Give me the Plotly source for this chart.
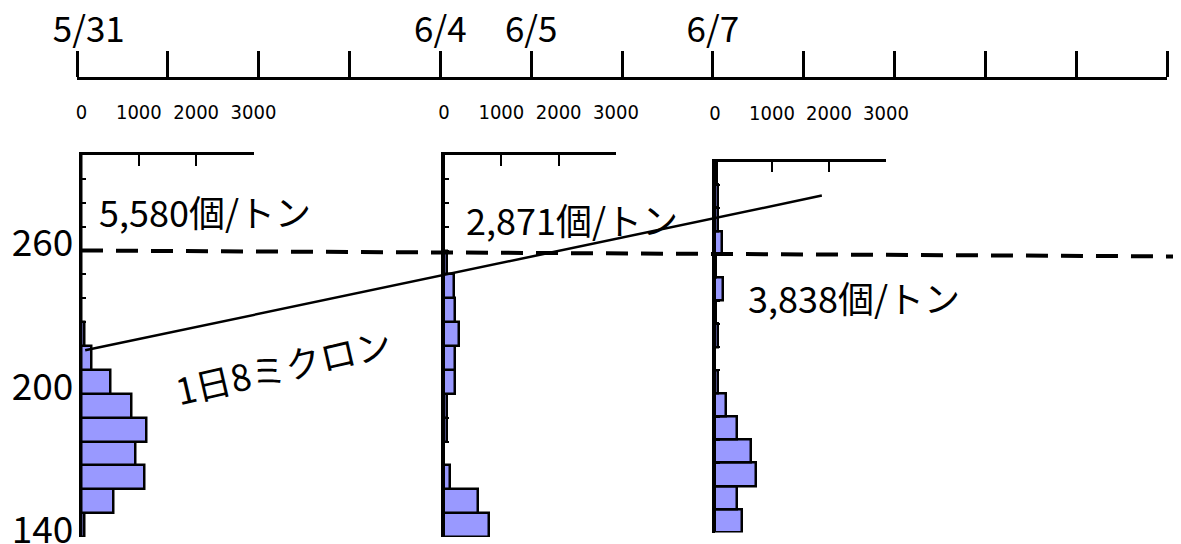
import plotly.graph_objects as go

# ---------------- data ----------------
size_bins_um = [145, 155, 165, 175, 185, 195, 205, 215, 225, 235, 245, 255, 265, 275, 285, 295]
counts_0531 = [60, 553, 1100, 940, 1140, 867, 506, 180, 50, 0, 0, 0, 0, 0, 0, 0]
counts_0604 = [780, 600, 113, 0, 55, 55, 200, 200, 270, 200, 166, 60, 0, 0, 0, 0]
counts_0607 = [468, 391, 719, 626, 391, 188, 58, 0, 58, 10, 146, 10, 128, 58, 58, 40]

timeline_days = [0, 1, 2, 3, 4, 5, 6, 7, 8, 9, 10, 11, 12]
timeline_labels = ["\u00a0\u00a0\u00a05/31", "", "", "", "6/4", "6/5", "", "6/7", "", "", "", "", ""]

hist_ticks = [0, 1000, 2000, 3000]
size_ticks = [140, 150, 160, 170, 180, 190, 200, 210, 220, 230, 240, 250, 260, 270, 280, 290, 300]
size_tick_labels = ["140", "", "", "", "", "", "200", "", "", "", "", "", "260", "", "", "", ""]

growth_days = [0.09, 8.2]
growth_um = [218.2, 283.0]
threshold_um = 260

density_labels = ["5,580個/トン", "2,871個/トン", "3,838個/トン"]
density_days = [1.41, 5.45, 8.55]
density_um = [276.5, 273.2, 240.5]
growth_label = "1日8ミクロン"

# ---------------- layout helpers ----------------
W, H = 1181, 544
OFF = 8  # page body margin offset
def fx(px):
    return (px - OFF) / W
def fy(py):
    return 1 - (py - OFF) / H

JP = "Noto Sans CJK JP, Noto Sans, sans-serif"
NARROW = "DejaVu Sans Condensed, Liberation Sans Narrow, sans-serif"
BAR_FILL = "#9999ff"

fig = go.Figure()

for counts, xa, ya in [(counts_0531, "x", "y"), (counts_0604, "x2", "y2"), (counts_0607, "x3", "y3")]:
    fig.add_trace(go.Bar(
        orientation="h", y=size_bins_um, x=counts, width=10,
        marker=dict(color=BAR_FILL, line=dict(color="black", width=2.5)),
        xaxis=xa, yaxis=ya, showlegend=False, hoverinfo="x+y",
    ))

fig.add_trace(go.Scatter(
    x=growth_days, y=growth_um, mode="lines",
    line=dict(color="black", width=2.5),
    xaxis="x4", yaxis="y", showlegend=False,
))

hist_x_common = dict(
    range=[0, 3000], side="top", showline=True, linecolor="black", linewidth=2.5,
    ticks="inside", ticklen=11, tickwidth=2, tickcolor="black",
    tickvals=hist_ticks, ticktext=[str(v) for v in hist_ticks], tickangle=0,
    tickfont=dict(family=NARROW, size=20, color="black"),
    showgrid=False, zeroline=False, fixedrange=True, automargin=False,
)
hist_y_common = dict(
    range=[140, 300], showline=True, linecolor="black", linewidth=2.5,
    ticks="inside", ticklen=5, tickwidth=2, tickcolor="black",
    tickvals=size_ticks, showgrid=False, zeroline=False, fixedrange=True,
    automargin=False,
)

fig.update_layout(
    template="none",
    width=W, height=H,
    margin=dict(l=0, r=0, t=0, b=0, autoexpand=False),
    paper_bgcolor="white", plot_bgcolor="rgba(0,0,0,0)",
    showlegend=False, bargap=0,
    font=dict(family=JP, color="black"),
    xaxis=dict(domain=[fx(81.5), fx(253.5)], anchor="y", ticklabelstandoff=25, **hist_x_common),
    yaxis=dict(domain=[fy(537), fy(155)], anchor="x",
               ticktext=size_tick_labels, showticklabels=True,
               tickfont=dict(family=JP, size=37, color="black"),
               ticklabelstandoff=-2, ticklabelshift=-7, ticklabeloverflow="allow",
               **hist_y_common),
    xaxis2=dict(domain=[fx(444), fx(616)], anchor="y2", ticklabelstandoff=25, **hist_x_common),
    yaxis2=dict(domain=[fy(537), fy(155)], anchor="x2", showticklabels=False, **hist_y_common),
    xaxis3=dict(domain=[fx(715), fx(886)], anchor="y3", ticklabelstandoff=31, **hist_x_common),
    yaxis3=dict(domain=[fy(532.5), fy(161.5)], anchor="x3", showticklabels=False, **hist_y_common),
    xaxis4=dict(domain=[fx(77), fx(1167)], range=[0, 12], anchor="free", position=fy(78),
                side="top", showline=True, linecolor="black", linewidth=3,
                ticks="outside", ticklen=26, tickwidth=3, tickcolor="black",
                tickvals=timeline_days, ticktext=timeline_labels, tickangle=0,
                tickfont=dict(family=JP, size=35, color="black"), ticklabelstandoff=-5,
                ticklabeloverflow="allow",
                showgrid=False, zeroline=False, fixedrange=True, automargin=False),
)

# 260 micron threshold (dashed)
fig.add_shape(type="line", xref="paper", x0=fx(81), x1=1.0,
              yref="y", ysizemode="pixel", yanchor=threshold_um, y0=0, y1=-6,
              line=dict(color="black", width=4, dash="22px,13px"))

for txt, d, um in zip(density_labels, density_days, density_um):
    fig.add_annotation(x=d, y=um, xref="x4", yref="y", text=txt, showarrow=False,
                       font=dict(family=JP, size=36, color="black"))

fig.add_annotation(x=2.27, y=212, xref="x4", yref="y", text=growth_label, showarrow=False,
                   textangle=-13, font=dict(family=JP, size=36, color="black"))

fig.write_html("out.html")
